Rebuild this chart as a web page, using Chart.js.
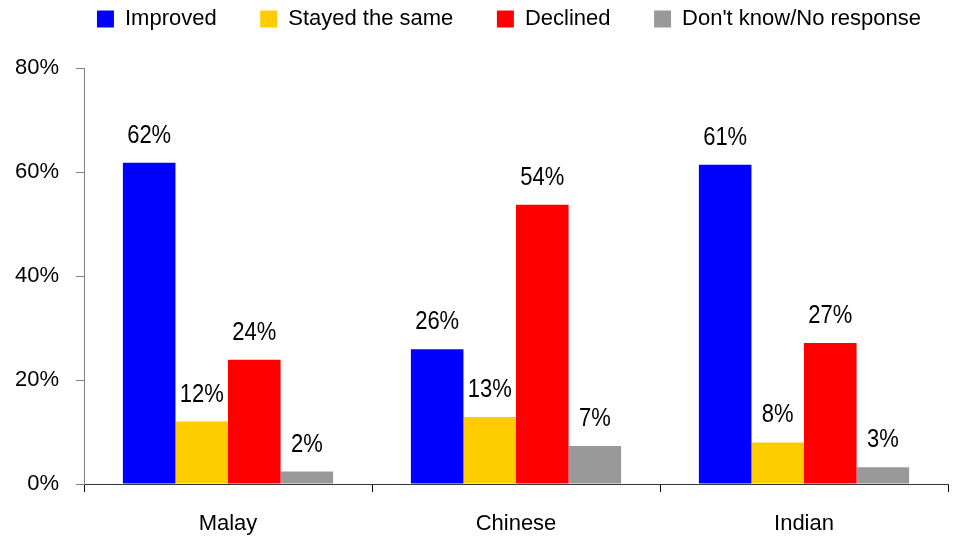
<!DOCTYPE html>
<html><head><meta charset="utf-8">
<script src="https://cdn.jsdelivr.net/npm/chart.js@4.4.1/dist/chart.umd.min.js"></script>
<style>html,body{margin:0;padding:0;background:#fff;} canvas{display:block;}</style>
</head><body>
<canvas id="c" width="957" height="539"></canvas>
<script>
// ---- data ----
const categories = ['Malay', 'Chinese', 'Indian'];
const seriesNames = ['Improved', 'Stayed the same', 'Declined', "Don't know/No response"];
const improved   = [61.8, 25.9, 61.4];
const stayedSame = [12.0, 12.9, 8.0];
const declined   = [23.9, 53.7, 27.1];
const dontKnow   = [2.4, 7.3, 3.2];
const yTickValues = [0, 20, 40, 60, 80];

const colors = ['#0000FF', '#FFCC00', '#FF0000', '#999999'];
const fontFam = '"Liberation Sans", Arial, sans-serif';

const valueLabels = {
  id: 'valueLabels',
  afterDatasetsDraw(chart) {
    const ctx = chart.ctx;
    chart.data.datasets.forEach((ds, i) => {
      chart.getDatasetMeta(i).data.forEach((bar, j) => {
        ctx.save();
        ctx.font = '22px ' + fontFam;
        ctx.fillStyle = '#000';
        ctx.textAlign = 'center';
        ctx.textBaseline = 'alphabetic';
        ctx.translate(bar.x, bar.y - 20);
        ctx.scale(1, 1.15);
        ctx.fillText(Math.round(ds.data[j]) + '%', 0, 0);
        ctx.restore();
      });
    });
  }
};

const legendHeight = {
  id: 'legendHeight',
  afterInit(chart) {
    const lg = chart.legend;
    if (!lg) return;
    const orig = lg.fit;
    lg.fit = function () { orig.call(this); this.height = 73; };
  }
};

const seriesData = [improved, stayedSame, declined, dontKnow];

new Chart(document.getElementById('c'), {
  type: 'bar',
  data: {
    labels: categories,
    datasets: seriesNames.map((name, i) => ({
      label: name,
      data: seriesData[i],
      backgroundColor: colors[i],
      borderWidth: 0,
      categoryPercentage: 0.73,
      barPercentage: 1.0
    }))
  },
  options: {
    responsive: false,
    animation: false,
    devicePixelRatio: 1,
    layout: { padding: { top: -5, left: 70, right: 9, bottom: 0 } },
    plugins: {
      tooltip: { enabled: false },
      legend: {
        position: 'top',
        align: 'center',
        labels: {
          boxWidth: 17,
          boxHeight: 17,
          padding: 13,
          color: '#000',
          font: { family: fontFam, size: 22 },
          generateLabels(chart) {
            const items = Chart.defaults.plugins.legend.labels.generateLabels(chart);
            items.forEach((it, i) => {
              if (i < items.length - 1) it.text = it.text + '\u00a0\u00a0\u00a0\u00a0\u00a0';
            });
            return items;
          }
        }
      }
    },
    scales: {
      x: {
        afterFit(scale) { scale.height = 55; },
        grid: { drawOnChartArea: false, drawTicks: true, tickLength: 8, color: '#000', offset: true },
        border: { display: true, color: '#333', width: 1 },
        ticks: { color: '#000', padding: 19, font: { family: fontFam, size: 22 } }
      },
      y: {
        min: 0,
        max: 80,
        afterFit(scale) { scale.width = 14; },
        afterBuildTicks(scale) { scale.ticks = yTickValues.map(v => ({ value: v })); },
        grid: { drawOnChartArea: false, drawTicks: true, tickLength: 8, color: '#808080' },
        border: { display: true, color: '#808080', width: 1 },
        ticks: {
          color: '#000',
          mirror: true,
          crossAlign: 'far',
          padding: -69,
          font: { family: fontFam, size: 22 },
          callback: v => v + '%'
        }
      }
    }
  },
  plugins: [valueLabels, legendHeight]
});
</script>
</body></html>
